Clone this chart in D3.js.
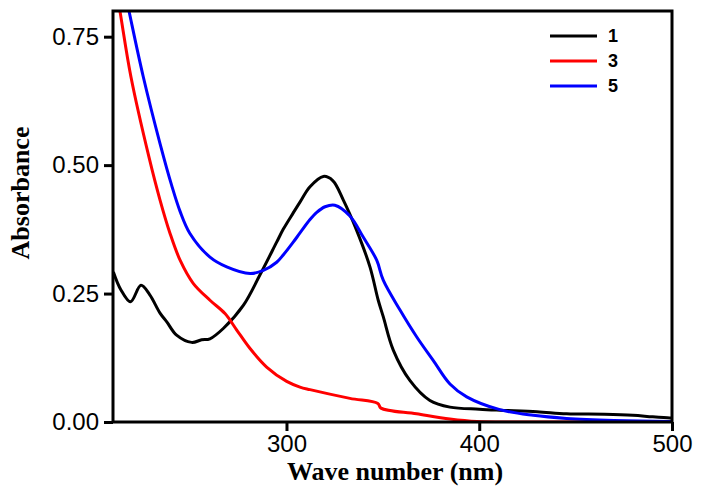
<!DOCTYPE html>
<html>
<head>
<meta charset="utf-8">
<script src="https://cdn.jsdelivr.net/npm/d3@7"></script>
<style>
  body { margin: 0; background: #fff; }
</style>
</head>
<body>
<div id="chart"></div>
<script>
// spectra (wavelength in nm, absorbance)
const wl1 = [210.2, 214, 219.1, 224.5, 229, 234.4, 237.9, 243.0, 250.8, 256, 260.3, 267.2, 277.6, 286.2, 294.9, 298.3, 303.5, 307.0, 312.2, 319.1, 324, 329.5, 336.4, 343.3, 347.6, 350.2, 355.4, 364.0, 374.4, 384.8, 400, 410.7, 430, 445.3, 465, 479.7, 490, 498.9, 500];
const abs1 = [0.292, 0.258, 0.234, 0.266, 0.248, 0.212, 0.195, 0.169, 0.155, 0.160, 0.162, 0.182, 0.227, 0.286, 0.350, 0.375, 0.407, 0.428, 0.458, 0.478, 0.470, 0.432, 0.373, 0.302, 0.237, 0.205, 0.140, 0.081, 0.042, 0.029, 0.025, 0.023, 0.020, 0.016, 0.015, 0.013, 0.010, 0.008, 0.008];

const wl3 = [210, 213.6, 219.3, 228.7, 234.4, 239.6, 244.8, 251.6, 260.3, 268.1, 274.2, 281.1, 289.7, 300.1, 307.0, 312.2, 332.9, 347.4, 349.0, 367.5, 384.8, 398.8, 420, 500];
const abs3 = [0.88, 0.80, 0.672, 0.515, 0.432, 0.367, 0.315, 0.270, 0.237, 0.211, 0.179, 0.143, 0.107, 0.079, 0.068, 0.063, 0.046, 0.036, 0.027, 0.016, 0.006, 0.001, 0.0, 0.0];

const wl5 = [210, 218.3, 225.7, 234.4, 240.4, 244.8, 249.9, 260.3, 269.0, 281.1, 288.0, 294.9, 298.3, 303.5, 307.0, 312.2, 315.7, 320, 325.1, 332.9, 339.8, 346.8, 350.2, 358.9, 367.5, 376.1, 384.8, 393.5, 410.7, 428.0, 445.3, 470, 498.9, 500];
const abs5 = [0.95, 0.80, 0.672, 0.542, 0.461, 0.410, 0.367, 0.321, 0.302, 0.289, 0.295, 0.311, 0.325, 0.350, 0.368, 0.394, 0.408, 0.419, 0.422, 0.401, 0.360, 0.315, 0.276, 0.218, 0.166, 0.120, 0.074, 0.049, 0.024, 0.013, 0.007, 0.003, 0.001, 0.001];

const seriesNames = ['1', '3', '5'];
const seriesColors = ['#000000', '#ff0000', '#0000ff'];

const xTicks = [300, 400, 500];
const yTicks = [0, 0.25, 0.5, 0.75];

const width = 704;
const height = 497;
const margin = {left: 113, right: 32, top: 11, bottom: 75};

const svg = d3.select('#chart')
  .append('svg')
  .attr('width', width)
  .attr('height', height);

const x = d3.scaleLinear()
  .domain([210, 500])
  .range([margin.left, width - margin.right]);

const y = d3.scaleLinear()
  .domain([0, 0.8])
  .range([height - margin.bottom, margin.top]);

// clip the curves to the plot box
svg.append('clipPath')
  .attr('id', 'plotclip')
  .append('rect')
  .attr('x', margin.left)
  .attr('y', margin.top)
  .attr('width', x.range()[1] - margin.left)
  .attr('height', y.range()[0] - margin.top);

const line = d3.line()
  .x(d => x(d[0]))
  .y(d => y(d[1]))
  .curve(d3.curveCatmullRom.alpha(0.5));

const series = [
  d3.zip(wl1, abs1),
  d3.zip(wl3, abs3),
  d3.zip(wl5, abs5)
];

// draw order: black, red, blue
svg.append('g')
  .attr('clip-path', 'url(#plotclip)')
  .selectAll('path')
  .data(series)
  .enter()
  .append('path')
  .attr('d', d => line(d))
  .attr('fill', 'none')
  .attr('stroke', (d, i) => seriesColors[i])
  .attr('stroke-width', 3)
  .attr('stroke-linejoin', 'round');

// axes
const axisX = d3.axisBottom(x)
  .tickValues(xTicks)
  .tickSize(9)
  .tickPadding(4)
  .tickFormat(d3.format('d'));

const axisY = d3.axisLeft(y)
  .tickValues(yTicks)
  .tickSize(9)
  .tickPadding(5)
  .tickFormat(d3.format('.2f'));

const gx = svg.append('g')
  .attr('transform', `translate(0, ${y(0)})`)
  .call(axisX);

const gy = svg.append('g')
  .attr('transform', `translate(${margin.left}, 0)`)
  .call(axisY);

[gx, gy].forEach(g => {
  g.select('.domain').remove();
  g.selectAll('.tick line').attr('stroke', '#000').attr('stroke-width', 3);
  g.selectAll('.tick text')
    .attr('fill', '#000')
    .style('font-family', 'Liberation Sans, Arial, sans-serif')
    .style('font-size', '24px');
});

// frame
svg.append('rect')
  .attr('x', margin.left)
  .attr('y', margin.top)
  .attr('width', x.range()[1] - margin.left)
  .attr('height', y.range()[0] - margin.top)
  .attr('fill', 'none')
  .attr('stroke', '#000')
  .attr('stroke-width', 3);

// axis titles
svg.append('text')
  .attr('x', 395)
  .attr('y', 480)
  .attr('text-anchor', 'middle')
  .style('font-family', 'Liberation Serif, Times New Roman, serif')
  .style('font-weight', 'bold')
  .style('font-size', '26px')
  .text('Wave number (nm)');

svg.append('text')
  .attr('transform', 'translate(29, 193) rotate(-90)')
  .attr('text-anchor', 'middle')
  .style('font-family', 'Liberation Serif, Times New Roman, serif')
  .style('font-weight', 'bold')
  .style('font-size', '26px')
  .text('Absorbance');

// legend
const legend = svg.append('g')
  .selectAll('g')
  .data(seriesNames)
  .enter()
  .append('g')
  .attr('transform', (d, i) => `translate(550, ${36 + i * 25})`);

legend.append('line')
  .attr('x1', 0)
  .attr('x2', 47)
  .attr('stroke', (d, i) => seriesColors[i])
  .attr('stroke-width', 3);

legend.append('text')
  .attr('x', 58)
  .attr('dy', '0.36em')
  .style('font-family', 'Liberation Sans, Arial, sans-serif')
  .style('font-weight', 'bold')
  .style('font-size', '18px')
  .text(d => d);
</script>
</body>
</html>
